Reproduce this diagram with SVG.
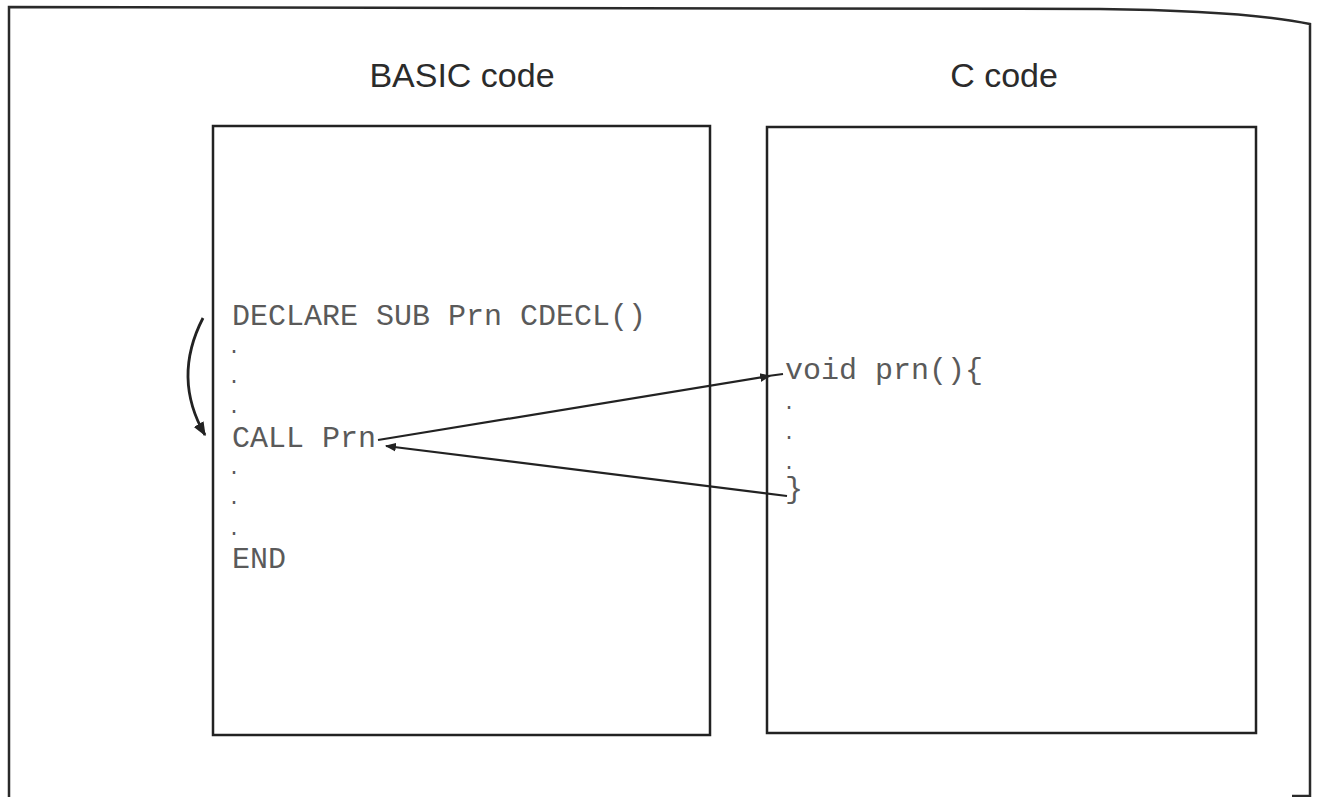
<svg xmlns="http://www.w3.org/2000/svg" width="1319" height="797" viewBox="0 0 1319 797">
<style>
.frame{fill:none;stroke:#2a2a2a;stroke-width:2.5}
.box{fill:none;stroke:#222;stroke-width:2.5}
.title{font-family:"Liberation Sans",Arial,sans-serif;font-size:34px;fill:#2b2b2b}
.code{font-family:"Liberation Mono","Courier New",monospace;font-size:30px;fill:#5a5a5a}
.dot{font-family:"Liberation Mono","Courier New",monospace;font-size:20px;fill:#5a5a5a}
.conn{fill:none;stroke:#222;stroke-width:2.2}
.curve{fill:none;stroke:#222;stroke-width:2.8}
</style>
<defs>
<marker id="ah" viewBox="0 0 10 10" refX="9" refY="5" markerWidth="5" markerHeight="5" orient="auto" markerUnits="strokeWidth">
<path d="M0,1 L10,5 L0,9 z" fill="#222"/>
</marker>
</defs>
<path class="frame" d="M9,797 L9,7 L1100,9 Q1250,11 1310,24 L1310,796 L1292,796"/>
<g id="basic">
<text class="title" x="462" y="87" text-anchor="middle">BASIC code</text>
<rect class="box" x="213" y="126" width="497" height="609"/>
<text class="code" x="232" y="325">DECLARE SUB Prn CDECL()</text>
<text class="dot" x="228" y="353">.</text>
<text class="dot" x="228" y="383">.</text>
<text class="dot" x="228" y="413">.</text>
<text class="code" x="232" y="447">CALL Prn</text>
<text class="dot" x="228" y="474">.</text>
<text class="dot" x="228" y="504">.</text>
<text class="dot" x="228" y="535">.</text>
<text class="code" x="232" y="568">END</text>
</g>
<g id="c">
<text class="title" x="1004" y="87" text-anchor="middle">C code</text>
<rect class="box" x="767" y="127" width="489" height="606"/>
<text class="code" x="785" y="379">void prn(){</text>
<text class="dot" x="783" y="409">.</text>
<text class="dot" x="783" y="439">.</text>
<text class="dot" x="783" y="469">.</text>
<text class="code" x="785" y="498">}</text>
</g>
<g id="connectors">
<path class="curve" d="M203,318 Q172,378 205,435" marker-end="url(#ah)"/>
<line class="conn" x1="378" y1="440" x2="770" y2="376" marker-end="url(#ah)"/>
<line class="conn" x1="768" y1="376" x2="783" y2="374"/>
<line class="conn" x1="787" y1="496" x2="386" y2="446" marker-end="url(#ah)"/>
</g>
</svg>
